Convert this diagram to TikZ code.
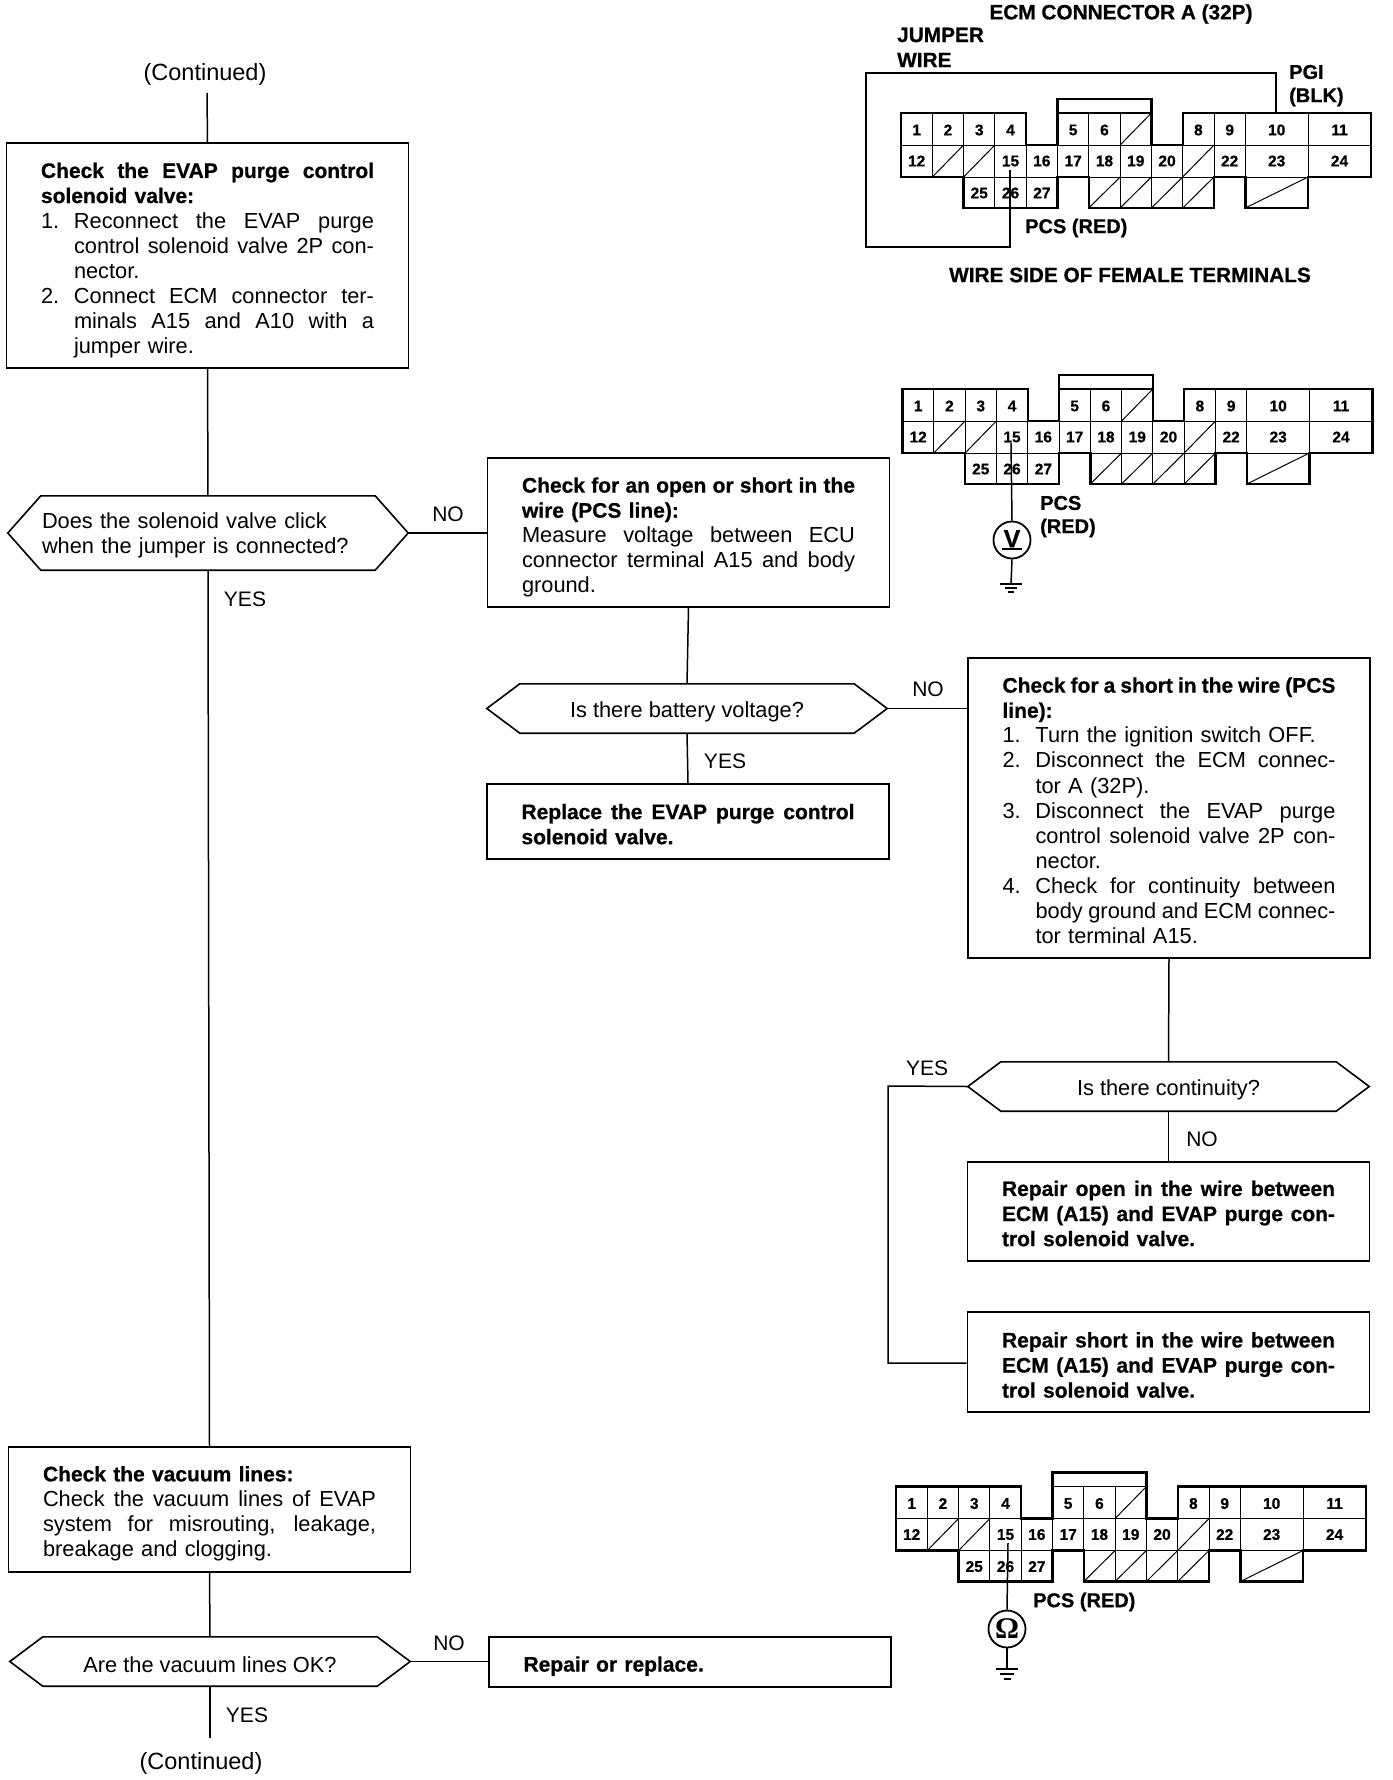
\documentclass[tikz,border=0pt]{standalone}
\usepackage{fontspec}
\setmainfont[BoldFeatures={FakeBold=0.7}]{Liberation Sans}
\newfontfamily\serfont{Liberation Serif}
\usetikzlibrary{calc}
\newcommand\bodyfont{\fontsize{21.8}{25.1}\selectfont}
\newcommand\bdf{\fontsize{21}{25.1}\selectfont\bfseries}
\newcommand\capfont{\fontsize{20.8}{25}\selectfont\bfseries}
\newcommand\capsmall{\fontsize{20}{25}\selectfont\bfseries}
\newcommand\numfont{\fontsize{15.5}{16}\selectfont\bfseries}
\newcommand\txtJ[1]{\hbox to \hsize{\spaceskip=.278em plus 1em minus .12em #1}}
\newcommand\txtL[1]{\hbox to \hsize{#1\hfil}}
\newcommand\itJ[2]{\hbox to \hsize{\hbox to 33pt{#1\hfil}\spaceskip=.278em plus 1em minus .12em #2}}
\newcommand\itL[2]{\hbox to \hsize{\hbox to 33pt{#1\hfil}#2\hfil}}
\newcommand\dn[1]{\raisebox{-3pt}[\height][\depth]{#1}}
\tikzset{
  flowline/.style={line width=1.5pt},
  flowbox/.style={draw,line width=1.6pt,text width=333pt,inner xsep=34.5pt,inner ysep=0pt,font=\bodyfont},
  decision/.style={inner sep=0pt,font=\bodyfont},
  lbl/.style={inner sep=0pt,font=\fontsize{21}{25}\selectfont},
  contlbl/.style={inner sep=0pt,font=\fontsize{23.5}{25}\selectfont},
  caplbl/.style={inner sep=0pt,font=\capfont,anchor=west},
  capsm/.style={inner sep=0pt,font=\capsmall,anchor=west},
  num/.style={inner sep=0pt,font=\numfont},
  gridline/.style={line width=1pt},
  shell/.style={line width=2.4pt,line join=miter},
  wire/.style={line width=1.5pt},
  meter/.style={draw,circle,line width=1.8pt,minimum size=37pt,inner sep=0pt},
}
% hexagonal outline round a named node
\newcommand\hexa[2]{\draw[flowline,line width=1.6pt] (#1.west) -- ($(#1.north west)+(#2,0)$) -- ($(#1.north east)+(-#2,0)$) -- (#1.east) -- ($(#1.south east)+(-#2,0)$) -- ($(#1.south west)+(#2,0)$) -- cycle;}
% connector drawing: prefix, dx, dy
\newcommand\connbody[3]{%
\begin{scope}[shift={(#2,#3)}]
  \def\yt{99}\def\ya{113}\def\yb{145}\def\yc{177}\def\yd{208}
  \def\ca{901}\def\cb{932.3}\def\cc{963.6}\def\cd{994.9}\def\ce{1026.2}\def\cf{1057.5}\def\cg{1088.8}\def\ch{1120.1}\def\ci{1151.4}\def\cj{1182.7}\def\ck{1214}\def\cl{1245.3}\def\cm{1308}\def\cn{1371}
  % thin grid
  \draw[gridline] (\ca,\yb) -- (\cn,\yb) (\ca,\yc) -- (\cn,\yc);
  \foreach \xx in {\cb,\cc,\cd} {\draw[gridline] (\xx,\ya) -- (\xx,\yb);}
  \foreach \xx in {\cg,\ch,\ck,\cl,\cm} {\draw[gridline] (\xx,\ya) -- (\xx,\yb);}
  \foreach \xx in {\cb,\cc,\cd,\ce,\cf,\cg,\ch,\ci,\cj,\ck,\cl,\cm} {\draw[gridline] (\xx,\yb) -- (\xx,\yc);}
  \foreach \xx in {\cd,\ce,\ch,\ci,\cj} {\draw[gridline] (\xx,\yc) -- (\xx,\yd);}
  % diagonals of the empty cavities
  \draw[gridline] (\ch,\yb) -- (\ci,\ya);
  \draw[gridline] (\cb,\yc) -- (\cc,\yb) (\cc,\yc) -- (\cd,\yb) (\cj,\yc) -- (\ck,\yb);
  \draw[gridline] (\cg,\yd) -- (\ch,\yc) (\ch,\yd) -- (\ci,\yc) (\ci,\yd) -- (\cj,\yc) (\cj,\yd) -- (\ck,\yc);
  \draw[gridline] (\cl,\yd) -- (\cm,\yc);
  % thick shell
  \draw[shell] (\ca,\ya) -- (\ce,\ya) -- (\ce,\yb) -- (\cf,\yb) -- (\cf,\yt) -- (\ci,\yt) -- (\ci,\yb) -- (\cj,\yb) -- (\cj,\ya) -- (\cn,\ya) -- (\cn,\yc) -- (\cm,\yc) -- (\cm,\yd) -- (\cl,\yd) -- (\cl,\yc) -- (\ck,\yc) -- (\ck,\yd) -- (\cg,\yd) -- (\cg,\yc) -- (\cf,\yc) -- (\cf,\yd) -- (\cc,\yd) -- (\cc,\yc) -- (\ca,\yc) -- cycle;
  \draw[shell,line width=1.8pt] (\cf,\ya) -- (\ci,\ya);
  % terminal numbers
  \foreach \n/\xa/\xb in {1/\ca/\cb,2/\cb/\cc,3/\cc/\cd,4/\cd/\ce,5/\cf/\cg,6/\cg/\ch,8/\cj/\ck,9/\ck/\cl,10/\cl/\cm,11/\cm/\cn}
    {\node[num] (#1-\n) at ({(\xa+\xb)/2},130) {\n};}
  \foreach \n/\xa/\xb in {12/\ca/\cb,15/\cd/\ce,16/\ce/\cf,17/\cf/\cg,18/\cg/\ch,19/\ch/\ci,20/\ci/\cj,22/\ck/\cl,23/\cl/\cm,24/\cm/\cn}
    {\node[num] (#1-\n) at ({(\xa+\xb)/2},161) {\n};}
  \foreach \n/\xa/\xb in {25/\cc/\cd,26/\cd/\ce,27/\ce/\cf}
    {\node[num] (#1-\n) at ({(\xa+\xb)/2},193) {\n};}
\end{scope}}
\begin{document}
\begin{tikzpicture}[x=1pt,y=-1pt]
\useasboundingbox (0,0) rectangle (1392,1780);

% ---- flow, left column
\node[contlbl] (contTop) at (205,74) {(Continued)};
\coordinate (contTopEnd) at (207,93);
\node[flowbox,minimum height=225pt] (b1) at (207.5,255.5) {\vskip 0pt
\txtJ{\bdf Check the EVAP purge control}
\txtL{\bdf solenoid valve:}
\itJ{1.}{Reconnect the EVAP purge}
\itJ{}{control solenoid valve 2P con-}
\itL{}{nector.}
\itJ{2.}{Connect ECM connector ter-}
\itJ{}{minals A15 and A10 with a}
\itL{}{jumper wire.}};
\node[decision,minimum width=400pt,minimum height=74pt,text width=332pt] (d1) at (208,533) {\vskip -4pt
\txtL{Does the solenoid valve click}
\txtL{when the jumper is connected?}};
\hexa{d1}{33}
\node[lbl] (no1) at (448,514) {NO};
\node[lbl] (yes1) at (245,599) {YES};

\node[flowbox,minimum height=149pt] (b2) at (688.5,532.5) {\vskip 0pt
\txtJ{\bdf Check for an open or short in the}
\txtL{\bdf wire (PCS line):}
\txtJ{Measure voltage between ECU}
\txtJ{connector terminal A15 and body}
\txtL{ground.}};
\node[decision,minimum width=400pt,minimum height=49pt] (d2) at (687,708.5) {\dn{Is there battery voltage?}};
\hexa{d2}{33}
\node[lbl] (no2) at (928,689) {NO};
\node[lbl] (yes2) at (725,761) {YES};
\node[flowbox,minimum height=75pt] (b4) at (688,821.5) {\vskip -4.6pt
\txtJ{\bdf Replace the EVAP purge control}
\txtL{\bdf solenoid valve.}};

\node[flowbox,minimum height=300pt] (b3) at (1169,808) {\vskip -4.6pt
\txtJ{\bdf Check for a short in the wire (PCS}
\txtL{\bdf line):}
\itL{1.}{Turn the ignition switch OFF.}
\itJ{2.}{Disconnect the ECM connec-}
\itL{}{tor A (32P).}
\itJ{3.}{Disconnect the EVAP purge}
\itJ{}{control solenoid valve 2P con-}
\itL{}{nector.}
\itJ{4.}{Check for continuity between}
\itJ{}{body ground and ECM connec-}
\itL{}{tor terminal A15.}};
\node[decision,minimum width=401pt,minimum height=49pt] (d3) at (1168.5,1086.5) {\dn{Is there continuity?}};
\hexa{d3}{33}
\node[lbl] (yes3) at (927,1068) {YES};
\node[lbl] (no3) at (1202,1139) {NO};
\node[flowbox,minimum height=99pt] (b5) at (1168.5,1211.5) {\vskip -5.8pt
\txtJ{\bdf Repair open in the wire between}
\txtJ{\bdf ECM (A15) and EVAP purge con-}
\txtL{\bdf trol solenoid valve.}};
\node[flowbox,minimum height=100pt] (b6) at (1168.5,1362) {\vskip -3.8pt
\txtJ{\bdf Repair short in the wire between}
\txtJ{\bdf ECM (A15) and EVAP purge con-}
\txtL{\bdf trol solenoid valve.}};
\coordinate (yesA) at (888,1086);
\coordinate (yesB) at (888,1363);

\node[flowbox,minimum height=125pt] (b7) at (209.5,1509.5) {\vskip -1.6pt
\txtL{\bdf Check the vacuum lines:}
\txtJ{Check the vacuum lines of EVAP}
\txtJ{system for misrouting, leakage,}
\txtL{breakage and clogging.}};
\node[decision,minimum width=400pt,minimum height=49pt] (d4) at (210,1661.5) {\dn{Are the vacuum lines OK?}};
\hexa{d4}{33}
\node[lbl] (no4) at (449,1643) {NO};
\node[flowbox,minimum height=50pt] (b8) at (690,1662) {\vskip -1.6pt\txtL{\bdf Repair or replace.}};
\node[lbl] (yes4) at (247,1715) {YES};
\coordinate (contEnd) at (210,1738);
\node[contlbl] (contBot) at (201,1763) {(Continued)};

% flow connectors
\draw[flowline] (contTopEnd) -- (b1.north);
\draw[flowline] (b1.south) -- (d1.north);
\draw[flowline] (d1.south) -- (b7.north);
\draw[flowline] (d1.east) -- (b2.west |- d1.east);
\draw[flowline] (b2.south) -- (d2.north);
\draw[flowline] (d2.south) -- (b4.north);
\draw[flowline] (d2.east) -- (b3.west |- d2.east);
\draw[flowline] (b3.south) -- (d3.north);
\draw[flowline] (d3.south) -- (b5.north);
\draw[flowline] (d3.west) -- (yesA) -- (yesB) -- (b6.west |- yesB);
\draw[flowline] (b7.south) -- (d4.north);
\draw[flowline] (d4.east) -- (b8.west |- d4.east);
\draw[flowline] (d4.south) -- (contEnd);

% ---- connector A
\connbody{A}{0}{0}
\node[caplbl,anchor=center] (ecm) at (1121,14) {ECM CONNECTOR A (32P)};
\node[caplbl] (jump) at (897,35) {JUMPER};
\node[caplbl] (jwire) at (897,60) {WIRE};
\node[capsm] (pgi) at (1289,72) {PGI};
\node[capsm] (blk) at (1289,97) {(BLK)};
\node[capsm] (pcsa) at (1025,228) {PCS (RED)};
\node[caplbl,anchor=center] (side) at (1130,275) {WIRE SIDE OF FEMALE TERMINALS};
\coordinate (ja) at (1276,113);
\coordinate (jb) at (1276,73);
\coordinate (jc) at (866,73);
\coordinate (jd) at (866,247);
\coordinate (je) at (1010,247);
\coordinate (jf) at (1010,170);
\draw[wire,line width=1.3pt] (ja) -- (jb) -- (jc) -- (jd) -- (je) -- (jf);

% ---- connector B
\connbody{B}{1.5}{276}
\node[meter] (vm) at (1012,540) {\bfseries\fontsize{25}{25}\selectfont\vbox{\hsize=20pt\hbox to 20pt{\hfil V\hfil}\kern0.5pt\hrule height 2pt}};
\coordinate (vtop) at (1011,443);
\coordinate (vgnd) at (1011,584);
\draw[wire] (vtop) -- (vm.north);
\draw[wire] (vm.south) -- (vgnd);
\draw[line width=1.1pt] ($(vgnd)+(-11,0)$) -- ($(vgnd)+(11,0)$) ($(vgnd)+(-6,4)$) -- ($(vgnd)+(6,4)$) ($(vgnd)+(-3,8)$) -- ($(vgnd)+(3,8)$);
\node[capsm] (pcsb) at (1040,503) {PCS};
\node[capsm] (redb) at (1040,528) {(RED)};

% ---- connector C
\connbody{C}{-5}{1373.5}
\node[meter] (om) at (1007,1629) {\serfont\bfseries\fontsize{30}{30}\selectfont Ω};
\coordinate (otop) at (1008,1543);
\coordinate (ognd) at (1007,1669);
\draw[wire] (otop) -- (om.north);
\draw[wire] (om.south) -- (ognd);
\draw[line width=1.5pt] ($(ognd)+(-11,0)$) -- ($(ognd)+(11,0)$) ($(ognd)+(-7,5)$) -- ($(ognd)+(7,5)$) ($(ognd)+(-3.5,10)$) -- ($(ognd)+(3.5,10)$);
\node[capsm] (pcsc) at (1033,1602) {PCS (RED)};
\end{tikzpicture}
\end{document}
